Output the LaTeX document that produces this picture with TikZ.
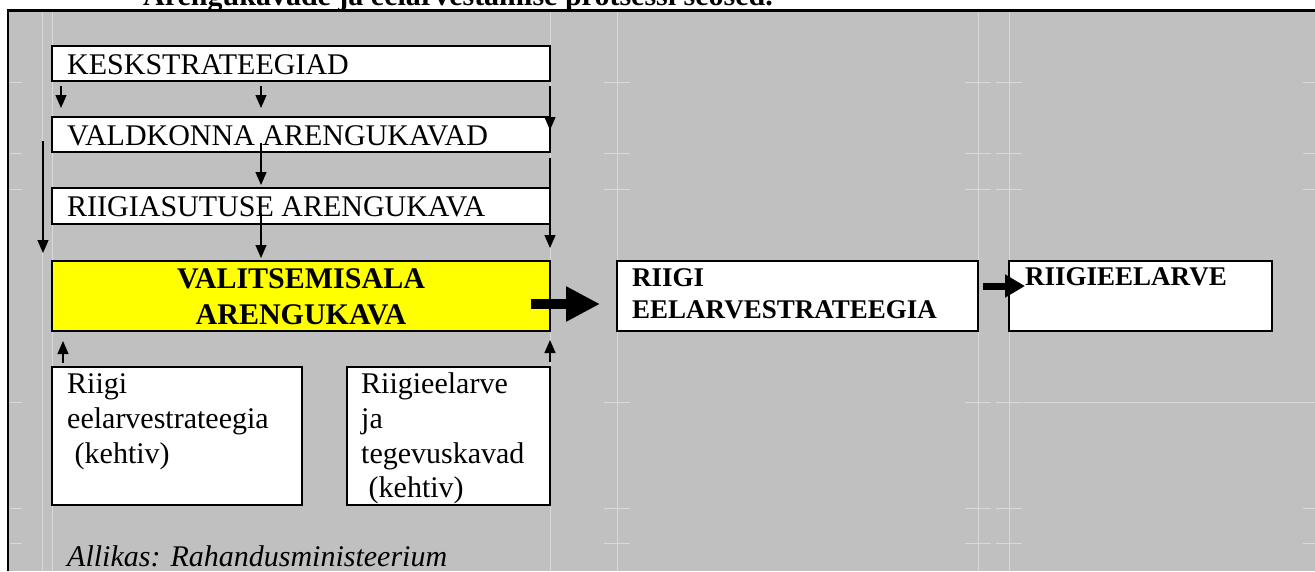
\documentclass[tikz,border=0pt]{standalone}
\usepackage{fontspec}
\setmainfont{Liberation Serif}
\usetikzlibrary{arrows.meta}

\definecolor{panel}{HTML}{C0C0C0}
\definecolor{gridcol}{HTML}{D9D9D9}
\definecolor{hilite}{HTML}{FFFF00}

\tikzset{
  box/.style={draw=black, line width=2.2pt, fill=white, anchor=north west,
              inner sep=0pt, outer sep=0pt},
  txt/.style={anchor=base west, inner sep=0pt, font=\fontsize{30}{34.5}\selectfont},
  btxt/.style={anchor=base west, inner sep=0pt, font=\fontsize{27}{31}\selectfont\bfseries},
  ctxt/.style={anchor=base, inner sep=0pt, font=\fontsize{30}{36}\selectfont\bfseries},
  flow/.style={line width=1.3pt, -{Triangle[width=11pt,length=13pt]}},
  fatflow/.style={line width=10pt, -{Triangle[width=33pt,length=34pt]}},
  midflow/.style={line width=7pt, -{Triangle[width=22pt,length=20pt]}},
  gridline/.style={draw=gridcol, line width=1pt},
}

\begin{document}
\begin{tikzpicture}[x=1pt,y=-1pt]
\useasboundingbox (0,0) rectangle (1315,571);

% caption above the frame, cut by the page edge
\begin{scope}
  \clip (0,0) rectangle (1315,571);
  \node[anchor=base west, inner sep=0pt, font=\fontsize{30}{34}\selectfont\bfseries]
    (title) at (143,5) {Arengukavade ja eelarvestamise protsessi seosed.};
\end{scope}

% grey table cell with its frame
\fill[panel] (8,10.5) rectangle (1315,571);
\draw[line width=2.6pt] (8,571) -- (8,10.5) -- (1315,10.5);

% faint table grid
\foreach \gx in {42,52,550,617,978,1009}
  \draw[gridline] (\gx,12) -- (\gx,571);
\foreach \gy in {82,153,189,402,508,543}{
  \draw[gridline] (10,\gy) -- (22,\gy);
  \draw[gridline] (1303,\gy) -- (1315,\gy);
  \foreach \gx in {617,978,1009}
    \draw[gridline] (\gx-13,\gy) -- (\gx+13,\gy);
}
\draw[gridline] (1023,402) -- (1303,402);

% boxes
\node[box, minimum width=498pt, minimum height=35pt] (kesk) at (52,46) {};
\node[box, minimum width=498pt, minimum height=35pt] (vald) at (52,117) {};
\node[box, minimum width=498pt, minimum height=36pt] (asut) at (52,188) {};
\node[box, fill=hilite, minimum width=498pt, minimum height=70pt] (vals) at (52,261) {};
\node[box, minimum width=361pt, minimum height=70pt] (ees) at (617,261) {};
\node[box, minimum width=263pt, minimum height=70pt] (eel) at (1009,261) {};
\node[box, minimum width=250pt, minimum height=138pt] (kehtA) at (52,367) {};
\node[box, minimum width=203pt, minimum height=138pt] (kehtB) at (347,367) {};

% box texts
\node[txt] (keskT) at (67,74) {KESKSTRATEEGIAD};
\node[txt] (valdT) at (67,145) {VALDKONNA ARENGUKAVAD};
\node[txt] (asutT) at (67,216.7) {RIIGIASUTUSE ARENGUKAVA};
\node[ctxt] (valsT1) at (301,288) {VALITSEMISALA};
\node[ctxt] (valsT2) at (301,324) {ARENGUKAVA};
\node[btxt] (eesT1) at (632,286.7) {RIIGI};
\node[btxt] (eesT2) at (632,318) {EELARVESTRATEEGIA};
\node[btxt] (eelT) at (1025,285) {RIIGIEELARVE};
\node[txt] (kehtA1) at (67,393) {Riigi};
\node[txt] (kehtA2) at (67,428) {eelarvestrateegia};
\node[txt] (kehtA3) at (67,463) {\ (kehtiv)};
\node[txt] (kehtB1) at (361,393) {Riigieelarve};
\node[txt] (kehtB2) at (361,428) {ja};
\node[txt] (kehtB3) at (361,463) {tegevuskavad};
\node[txt] (kehtB4) at (361,497) {\ (kehtiv)};
\node[txt, font=\fontsize{30}{34.5}\selectfont\itshape] (src) at (67,566) {Allikas: Rahandusministeerium};

% arrow end points
\coordinate (a1s) at (61,86);   \coordinate (a1e) at (61,108);
\coordinate (a2s) at (261,86);  \coordinate (a2e) at (261,108);
\coordinate (a3s) at (550,86);  \coordinate (a3e) at (550,130);
\coordinate (a4s) at (43,141);  \coordinate (a4e) at (43,253);
\coordinate (a5s) at (261,143); \coordinate (a5e) at (261,185);
\coordinate (a6s) at (261,213); \coordinate (a6e) at (261,258);
\coordinate (a7s) at (550,158); \coordinate (a7e) at (550,248);
\coordinate (u1s) at (63,363);  \coordinate (u1e) at (63,341);
\coordinate (u2s) at (550,362); \coordinate (u2e) at (550,340);
\coordinate (bigS) at (531,304); \coordinate (bigE) at (600,304);
\coordinate (smS) at (983,286);  \coordinate (smE) at (1025,286);

% thin arrows
\draw[flow] (a1s) -- (a1e);
\draw[flow] (a2s) -- (a2e);
\draw[flow] (a3s) -- (a3e);
\draw[flow] (a4s) -- (a4e);
\draw[flow] (a5s) -- (a5e);
\draw[flow] (a6s) -- (a6e);
\draw[flow] (a7s) -- (a7e);
\draw[flow] (u1s) -- (u1e);
\draw[flow] (u2s) -- (u2e);

% block arrows
\draw[fatflow] (bigS) -- (bigE);
\draw[midflow] (smS) -- (smE);
\end{tikzpicture}
\end{document}
